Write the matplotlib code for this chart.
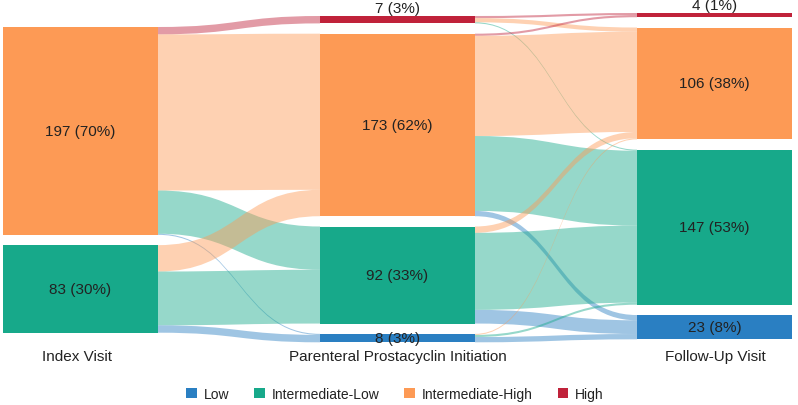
import math
import matplotlib
matplotlib.use('Agg')
import matplotlib.pyplot as plt
from matplotlib.path import Path
from matplotlib.patches import PathPatch, Rectangle, Patch

plt.rcParams['font.family'] = ['Liberation Sans', 'DejaVu Sans']

# data
categories = ['Low', 'Intermediate-Low', 'Intermediate-High', 'High']
colors = ['#2a7fc2', '#17a98a', '#fd9a55', '#c0223a']
stages = ['Index Visit', 'Parenteral Prostacyclin Initiation', 'Follow-Up Visit']

# node order top to bottom in each column (index into categories)
col_nodes = [[2, 1], [3, 2, 1, 0], [3, 2, 1, 0]]
col_counts = [[197, 83], [7, 173, 92, 8], [4, 106, 147, 23]]

# flows (stage, source cat, target cat, count)
flows = [
    (0, 2, 3, 7), (0, 2, 2, 148), (0, 2, 1, 41), (0, 2, 0, 1),
    (0, 1, 2, 25), (0, 1, 1, 51), (0, 1, 0, 7),
    (1, 3, 3, 2), (1, 3, 2, 4), (1, 3, 1, 1),
    (1, 2, 3, 2), (1, 2, 2, 95), (1, 2, 1, 71), (1, 2, 0, 5),
    (1, 1, 2, 6), (1, 1, 1, 73), (1, 1, 0, 13),
    (1, 0, 2, 1), (1, 0, 1, 2), (1, 0, 0, 5),
]
total = 280

# layout (pixels)
W, H = 798, 406
col_x = [3, 320, 637]
node_w = 155
col_top = [28, 17, 14]
k = 1.055
gap = 10.3

fig = plt.figure(figsize=(W / 100, H / 100), dpi=100)
ax = fig.add_axes([0, 0, 1, 1])
ax.set_xlim(0, W)
ax.set_ylim(H, 0)
ax.axis('off')

# node positions
pos = []
for c in range(3):
    y = col_top[c]
    d = {}
    for cat, n in zip(col_nodes[c], col_counts[c]):
        d[cat] = [y, y + n * k]
        y += n * k + gap
    pos.append(d)

# cursors for links
out_cur = [{cat: pos[c][cat][0] for cat in pos[c]} for c in range(3)]
in_cur = [{cat: pos[c][cat][0] for cat in pos[c]} for c in range(3)]

def to_rgba(hexc, a):
    r, g, b = matplotlib.colors.to_rgb(hexc)
    return (r, g, b, a)

# links: coloured by target category
for s in range(2):
    order_src = col_nodes[s]
    order_tgt = col_nodes[s + 1]
    fl = [f for f in flows if f[0] == s]
    seg_src = {}
    for src in order_src:
        for tgt in order_tgt:
            for f in fl:
                if f[1] == src and f[2] == tgt:
                    y0 = out_cur[s][src]
                    out_cur[s][src] += f[3] * k
                    seg_src[(src, tgt)] = (y0, y0 + f[3] * k)
    seg_tgt = {}
    for tgt in order_tgt:
        for src in order_src:
            for f in fl:
                if f[1] == src and f[2] == tgt:
                    y0 = in_cur[s + 1][tgt]
                    in_cur[s + 1][tgt] += f[3] * k
                    seg_tgt[(src, tgt)] = (y0, y0 + f[3] * k)
    x0 = col_x[s] + node_w
    x1 = col_x[s + 1]
    xm = (x0 + x1) / 2
    for f in fl:
        a0, a1 = seg_src[(f[1], f[2])]
        b0, b1 = seg_tgt[(f[1], f[2])]
        verts = [(x0, a0), (xm, a0), (xm, b0), (x1, b0),
                 (x1, b1), (xm, b1), (xm, a1), (x0, a1), (x0, a0)]
        codes = [Path.MOVETO, Path.CURVE4, Path.CURVE4, Path.CURVE4,
                 Path.LINETO, Path.CURVE4, Path.CURVE4, Path.CURVE4, Path.CLOSEPOLY]
        ax.add_patch(PathPatch(Path(verts, codes), facecolor=to_rgba(colors[f[2]], 0.45),
                               edgecolor='none', lw=0))

# nodes and labels
for c in range(3):
    for cat, n in zip(col_nodes[c], col_counts[c]):
        y0, y1 = pos[c][cat]
        ax.add_patch(Rectangle((col_x[c], y0), node_w, y1 - y0,
                               facecolor=colors[cat], edgecolor='none'))
        pct = math.floor(n / total * 100 + 0.5)
        label = f'{n} ({pct}%)'
        xc = col_x[c] + node_w / 2
        if cat == 3:
            ax.text(xc, y0 - 1, label, ha='center', va='bottom', fontsize=11, color='#222222')
        else:
            ax.text(xc, (y0 + y1) / 2, label, ha='center', va='center', fontsize=11, color='#222222')

# column titles
title_x = [77, 398, 715]
for c in range(3):
    ax.text(title_x[c], 357, stages[c], ha='center', va='center', fontsize=11, color='#222222')

# legend
handles = [Patch(facecolor=colors[i], edgecolor='none', label=categories[i]) for i in range(4)]
fig.legend(handles=handles, loc='center', bbox_to_anchor=(395 / W, 1 - 395 / H), ncol=4,
           frameon=False, fontsize=10, handlelength=0.75, handleheight=0.75,
           handletextpad=0.5, columnspacing=1.8, labelcolor='#222222')

fig.savefig('out.png', dpi=100)
